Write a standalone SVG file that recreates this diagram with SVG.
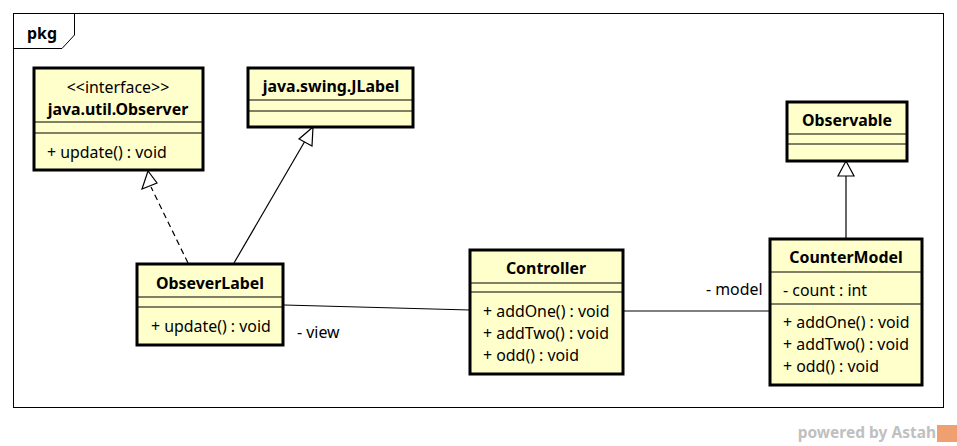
<svg xmlns="http://www.w3.org/2000/svg" width="957" height="446" viewBox="0 0 957 446">
<style>
.box{fill:#ffffcc;stroke:#000;stroke-width:3}
.sep{stroke:#000;stroke-width:1}
.t{font-family:"Noto Sans","Open Sans",sans-serif;font-size:15.9px;fill:#000}
.b{font-weight:bold;text-anchor:middle}
.c{text-anchor:middle}
.ln{stroke:#000;stroke-width:1.2;fill:none}
.tri{fill:#fff;stroke:#000;stroke-width:1.2}
</style>
<rect width="957" height="446" fill="#fff"/>
<g id="frame">
<rect x="13.5" y="13.5" width="930" height="394" fill="none" stroke="#000" stroke-width="1"/>
<path d="M13.5 48.5 H62 L74.5 35 V13.5" fill="none" stroke="#000" stroke-width="1"/>
<text x="27" y="39" class="t" style="font-weight:bold">pkg</text>
</g>
<g id="connectors">
<line class="ln" x1="188" y1="263" x2="151" y2="187" stroke-dasharray="6,4"/>
<polygon class="tri" points="148,171 142,189 157,183"/>
<line class="ln" x1="234" y1="263" x2="305" y2="141"/>
<polygon class="tri" points="313,127 299,139 312,146"/>
<line class="ln" x1="846" y1="239" x2="846" y2="176"/>
<polygon class="tri" points="846,161 838,176 854,176"/>
<line class="ln" x1="284" y1="305" x2="470" y2="310"/>
<line class="ln" x1="623" y1="311" x2="770" y2="311"/>
<text class="t" x="297" y="338">- view</text>
<text class="t" x="706" y="295">- model</text>
</g>
<g id="observer">
<rect class="box" x="34" y="68" width="169" height="102"/>
<line class="sep" x1="34" y1="122" x2="203" y2="122"/>
<line class="sep" x1="34" y1="133" x2="203" y2="133"/>
<text class="t c" x="118" y="93">&lt;&lt;interface&gt;&gt;</text>
<text class="t b" x="118" y="115">java.util.Observer</text>
<text class="t" x="47" y="158">+ update() : void</text>
</g>
<g id="jlabel">
<rect class="box" x="248" y="68" width="165" height="59"/>
<line class="sep" x1="248" y1="100" x2="413" y2="100"/>
<line class="sep" x1="248" y1="111" x2="413" y2="111"/>
<text class="t b" x="331" y="92">java.swing.JLabel</text>
</g>
<g id="observable">
<rect class="box" x="787" y="102" width="120" height="59"/>
<line class="sep" x1="787" y1="134" x2="907" y2="134"/>
<line class="sep" x1="787" y1="144" x2="907" y2="144"/>
<text class="t b" x="847" y="126">Observable</text>
</g>
<g id="obseverlabel">
<rect class="box" x="137" y="264" width="146" height="81"/>
<line class="sep" x1="137" y1="297" x2="283" y2="297"/>
<line class="sep" x1="137" y1="307" x2="283" y2="307"/>
<text class="t b" x="210" y="289">ObseverLabel</text>
<text class="t" x="151" y="332">+ update() : void</text>
</g>
<g id="controller">
<rect class="box" x="470" y="250" width="153" height="124"/>
<line class="sep" x1="470" y1="283" x2="623" y2="283"/>
<line class="sep" x1="470" y1="292" x2="623" y2="292"/>
<text class="t b" x="546" y="274">Controller</text>
<text class="t" x="483" y="317">+ addOne() : void</text>
<text class="t" x="483" y="339">+ addTwo() : void</text>
<text class="t" x="483" y="361">+ odd() : void</text>
</g>
<g id="countermodel">
<rect class="box" x="770" y="239" width="152" height="146"/>
<line class="sep" x1="770" y1="272" x2="922" y2="272"/>
<line class="sep" x1="770" y1="304" x2="922" y2="304"/>
<text class="t b" x="846" y="263">CounterModel</text>
<text class="t" x="783" y="296">- count : int</text>
<text class="t" x="783" y="328">+ addOne() : void</text>
<text class="t" x="783" y="350">+ addTwo() : void</text>
<text class="t" x="783" y="372">+ odd() : void</text>
</g>
<g id="watermark">
<text x="936" y="438" style="font-family:'Noto Sans','Open Sans',sans-serif;font-size:15.5px;font-weight:bold;fill:#c0c0c0;text-anchor:end">powered by Astah</text>
<rect x="937" y="425" width="20" height="17" fill="#f0a070"/>
</g>
</svg>
